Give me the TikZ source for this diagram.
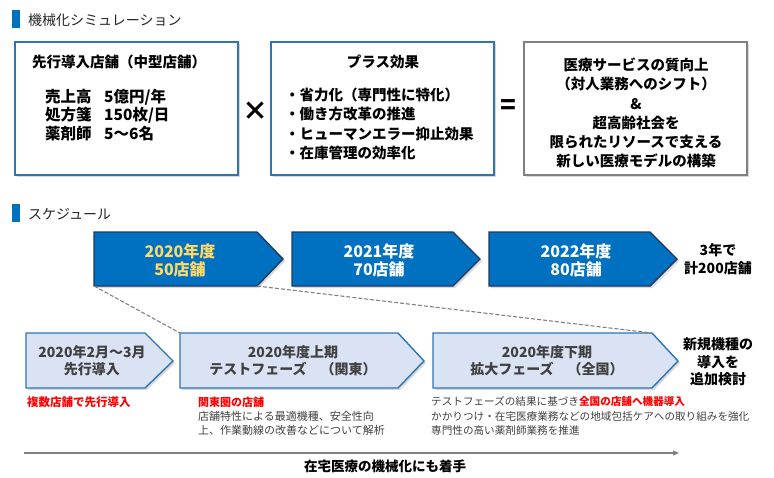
\documentclass[tikz,border=0pt]{standalone}
\usepackage{fontspec}
\setmainfont{Noto Sans CJK JP}
\usetikzlibrary{shadows,arrows.meta}
\definecolor{barblue}{HTML}{0070C0}
\definecolor{boxblue}{HTML}{2E75B6}
\definecolor{navy}{HTML}{203864}
\definecolor{lightfill}{HTML}{DAE3F3}
\definecolor{darktext}{HTML}{404040}
\definecolor{titletext}{HTML}{262626}
\definecolor{yel}{HTML}{FFD966}
\definecolor{redtext}{HTML}{FF0000}
\definecolor{linegray}{HTML}{808080}
\newcommand\fsz[2]{\fontsize{#1}{#2}\selectfont}
\tikzset{
  shadowed/.style={drop shadow={opacity=0.3, shadow xshift=2pt, shadow yshift=-2pt}},
  topbox/.style={draw=#1, line width=1.4pt, fill=white, shadowed, inner sep=0pt, outer sep=0pt,
    minimum width=223pt, minimum height=133pt, anchor=north west},
  upchev/.style={draw=navy, line width=1.4pt, fill=barblue, shadowed},
  lowchev/.style={draw=boxblue, line width=1.4pt, fill=lightfill, shadowed},
  uptext/.style={font=\fsz{16}{18}\bfseries, align=center, inner sep=0pt},
  lowtext/.style={font=\fsz{14}{17}\bfseries, align=center, inner sep=0pt, text=darktext},
  sidetext/.style={font=\fsz{14}{17.5}\bfseries, align=center, inner sep=0pt},
  smalltext/.style={font=\fsz{11}{14.2}, align=left, inner sep=0pt, text=darktext, anchor=west},
  titletx/.style={font=\fsz{14}{17}, text=titletext, anchor=west, inner sep=0pt},
  dashline/.style={draw=linegray, line width=1.1pt, dash pattern=on 4pt off 2pt},
}
\begin{document}
\begin{tikzpicture}[x=1pt,y=-1pt]
\useasboundingbox (0,0) rectangle (774,477);

% ---- section 1 title
\fill[barblue] (12,10) rectangle (20,28);
\node[titletx] (title1) at (28,20) {機械化シミュレーション};

% ---- three boxes
\node[topbox=boxblue] (box1) at (15,42) {};
\node[font=\fsz{14.5}{17}\bfseries, anchor=west, inner sep=0pt] (h1) at (32,62) {先行導入店舗（中型店舗）};
\node[font=\fsz{15.5}{18.6}\bfseries, align=left, anchor=west, inner sep=0pt] (lab1) at (45,115) {売上高\\処方箋\\薬剤師};
\node[font=\fsz{15.5}{18.6}\bfseries, align=left, anchor=west, inner sep=0pt] (val1) at (104,115) {5億円/年\\150枚/日\\5～6名};

\node[font=\fsz{26}{28}\bfseries, inner sep=0pt] (times) at (255,111) {×};

\node[topbox=boxblue] (box2) at (271,42) {};
\node[font=\fsz{14.5}{17}\bfseries, inner sep=0pt] (h2) at (383,62) {プラス効果};
\node[font=\fsz{14.5}{19.3}\bfseries, align=left, anchor=west, inner sep=0pt] (bul2) at (285,124)
  {・省力化（専門性に特化）\\・働き方改革の推進\\・ヒューマンエラー抑止効果\\・在庫管理の効率化};

\node[font=\fsz{26}{28}\bfseries, inner sep=0pt] (equal) at (508,107) {=};

\node[topbox=linegray] (box3) at (524,42) {};
\node[font=\fsz{14.5}{19.2}\bfseries, align=center, inner sep=0pt] (t3) at (636,113)
  {医療サービスの質向上\\（対人業務へのシフト）\\\&\\超高齢社会を\\限られたリソースで支える\\新しい医療モデルの構築};

% ---- section 2 title
\fill[barblue] (12,204) rectangle (20,222);
\node[titletx] (title2) at (28,214) {スケジュール};

% ---- upper chevrons
\draw[upchev] (94,232) -- (257,232) -- (283,259) -- (257,286) -- (94,286) -- cycle;
\draw[upchev] (292,232) -- (453,232) -- (480,259) -- (453,286) -- (292,286) -- cycle;
\draw[upchev] (489,232) -- (650,232) -- (677,259) -- (650,286) -- (489,286) -- cycle;
\coordinate (u1bl) at (94,286);
\coordinate (u1br) at (257,286);
\node[uptext, text=yel] (u1) at (180,260) {2020年度\\50店舗};
\node[uptext, text=white] (u2) at (379,260) {2021年度\\70店舗};
\node[uptext, text=white] (u3) at (576,260) {2022年度\\80店舗};
\node[sidetext] (total) at (718,259) {3年で\\計200店舗};

% ---- lower chevrons
\draw[lowchev] (26,333) -- (145,333) -- (173,361) -- (145,388) -- (26,388) -- cycle;
\draw[lowchev] (180,333) -- (398,333) -- (424,361) -- (398,388) -- (180,388) -- cycle;
\draw[lowchev] (433,333) -- (652,333) -- (678,361) -- (652,388) -- (433,388) -- cycle;
\coordinate (l2tl) at (180,333);
\coordinate (l3tr) at (652,333);
\node[lowtext] (l1) at (92,361) {2020年2月～3月\\先行導入};
\node[lowtext] (l2) at (293,361) {2020年度上期\\テストフェーズ　（関東）};
\node[lowtext] (l3) at (547,361) {2020年度下期\\拡大フェーズ　（全国）};
\node[sidetext] (newm) at (718,362) {新規機種の\\導入を\\追加検討};

% ---- dashed connectors
\draw[dashline] (u1bl) -- (l2tl);
\draw[dashline] (u1br) -- (l3tr);

% ---- notes
\node[font=\fsz{11.5}{14}\bfseries, text=redtext, anchor=west, inner sep=0pt] (n1) at (27,402) {複数店舗で先行導入};
\node[smalltext] (n2) at (198,416)
  {\textcolor{redtext}{\bfseries 関東圏の店舗}\\店舗特性による最適機種、安全性向\\上、作業動線の改善などについて解析};
\node[smalltext, font=\fsz{10.6}{14.2}] (n3) at (431,416)
  {テストフェーズの結果に基づき\textcolor{redtext}{\bfseries 全国の店舗へ機器導入}\\かかりつけ・在宅医療業務などの地域包括ケアへの取り組みを強化\\専門性の高い薬剤師業務を推進};

% ---- bottom arrow
\coordinate (arrS) at (24,453);
\coordinate (arrE) at (679,453);
\draw[linegray, line width=1.2pt, -{Triangle[length=6pt,width=5pt]}] (arrS) -- (arrE);
\node[font=\fsz{13.5}{16}\bfseries, inner sep=0pt] (home) at (385,466) {在宅医療の機械化にも着手};
\end{tikzpicture}
\end{document}
